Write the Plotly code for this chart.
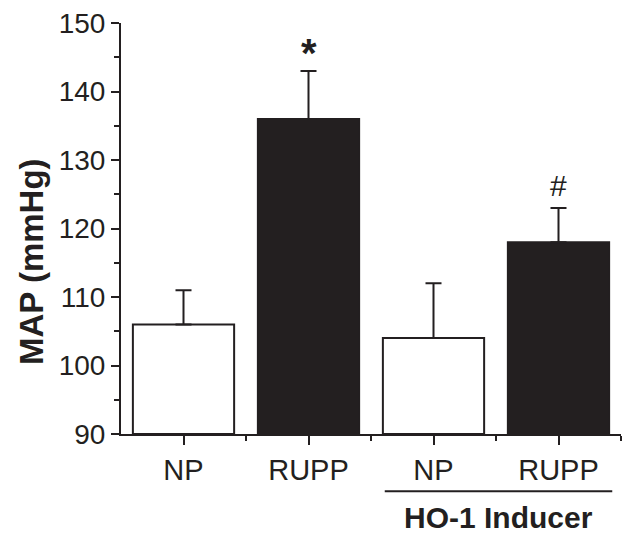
import plotly.graph_objects as go

categories = ["NP", "RUPP", "NP", "RUPP"]
map_values = [106, 136, 104, 118]
sem_values = [5, 7, 8, 5]
bar_colors = ["white", "#231f20", "white", "#231f20"]
markers = ["", "*", "", "#"]
y_ticks = [90, 100, 110, 120, 130, 140, 150]

ink = "#231f20"
font_family = "Arial, Liberation Sans, sans-serif"
xpos = list(range(len(categories)))

fig = go.Figure()
fig.add_trace(go.Bar(
    x=xpos, y=[v - 90 for v in map_values], base=90,
    width=0.81,
    marker=dict(color=bar_colors, line=dict(color=ink, width=2)),
    error_y=dict(type="data", symmetric=False, array=sem_values,
                 arrayminus=[0] * len(sem_values), color=ink,
                 thickness=2, width=8),
    showlegend=False,
))

# significance markers
fig.add_annotation(x=1, y=map_values[1] + sem_values[1], yshift=-6, text="<b>*</b>",
                   showarrow=False, yanchor="bottom",
                   font=dict(size=40, color=ink, family=font_family))
fig.add_annotation(x=3, y=map_values[3] + sem_values[3], yshift=4, text="#",
                   showarrow=False, yanchor="bottom",
                   font=dict(size=30, color=ink, family=font_family))

# group bracket
fig.add_shape(type="line", xref="x", yref="paper", x0=1.61, x1=3.43,
              y0=-0.139, y1=-0.139, line=dict(color=ink, width=2))
fig.add_annotation(x=2.52, xref="x", y=-0.202, yref="paper", yanchor="middle",
                   text="<b>HO-1 Inducer</b>", showarrow=False,
                   font=dict(size=30, color=ink, family=font_family))

# y-axis title
fig.add_annotation(x=0, xref="paper", xshift=-90, y=0.4355, yref="paper", yshift=-7,
                   xanchor="center", yanchor="middle", textangle=-90,
                   text="<b>MAP (mmHg)</b>", showarrow=False,
                   font=dict(size=33, color=ink, family=font_family))

fig.update_layout(
    width=626, height=532,
    margin=dict(l=113, r=13, t=15, b=106),
    plot_bgcolor="white", paper_bgcolor="white",
    font=dict(family=font_family, color=ink, size=28),
    bargap=0.19,
)
fig.update_xaxes(
    range=[-0.5, 3.5], tickvals=xpos, ticktext=categories,
    ticks="outside", ticklen=9, tickwidth=2, tickcolor=ink,
    showline=True, linewidth=2, linecolor=ink, showgrid=False, zeroline=False,
    tickfont=dict(size=29, color=ink), automargin=False, ticklabeloverflow="allow",
    minor=dict(tickvals=[0.5, 1.5, 2.5, 3.5], ticks="outside", ticklen=5,
               tickwidth=2, tickcolor=ink, showgrid=False),
)
fig.update_yaxes(
    range=[90, 150], tickvals=y_ticks,
    ticks="outside", ticklen=8, tickwidth=2, tickcolor=ink,
    showline=True, linewidth=2, linecolor=ink, showgrid=False, zeroline=False,
    tickfont=dict(size=28, color=ink), automargin=False, ticklabeloverflow="allow",
    minor=dict(dtick=5, tick0=95, ticks="outside", ticklen=5, tickwidth=2,
               tickcolor=ink, showgrid=False),
)

fig.write_html("out.html")
